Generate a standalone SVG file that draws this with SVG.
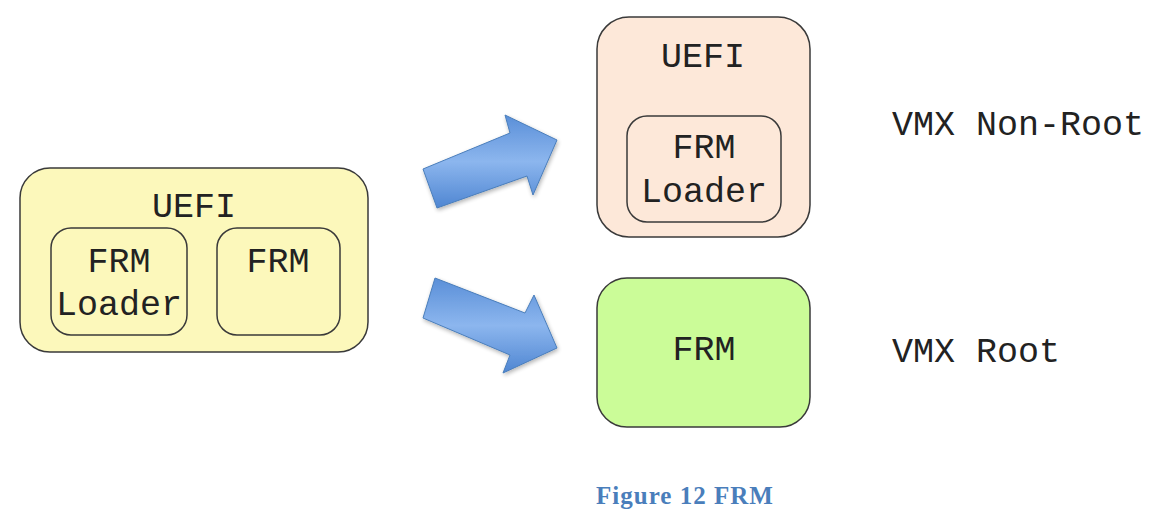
<svg xmlns="http://www.w3.org/2000/svg" width="1158" height="524" viewBox="0 0 1158 524">
<style>
.box{stroke:#3a3a3a;stroke-width:1.5}
.t{font-family:"Liberation Mono","Courier New",monospace;font-size:35px;fill:#222;text-anchor:middle}
.lbl{font-family:"Liberation Mono","Courier New",monospace;font-size:35px;fill:#222}
.cap{font-family:"Liberation Serif","Times New Roman",serif;font-size:25px;font-weight:bold;fill:#4a7ebb;text-anchor:middle;letter-spacing:1px}
.arr{fill:url(#ag);stroke:#4a7ebb;stroke-width:1}
</style>
<defs>
<linearGradient id="ag" x1="0" y1="0" x2="0" y2="1">
<stop offset="0" stop-color="#5a8fd8"/>
<stop offset="0.5" stop-color="#8cb6ee"/>
<stop offset="1" stop-color="#4f86d2"/>
</linearGradient>
<filter id="sh" x="-20%" y="-20%" width="140%" height="140%">
<feGaussianBlur in="SourceAlpha" stdDeviation="2"/>
<feOffset dx="1" dy="2"/>
<feComponentTransfer><feFuncA type="linear" slope="0.3"/></feComponentTransfer>
<feMerge><feMergeNode/><feMergeNode in="SourceGraphic"/></feMerge>
</filter>
</defs>
<rect width="1158" height="524" fill="#fff"/>
<g id="uefi-left">
<rect class="box" x="20" y="168" width="348" height="184" rx="30" fill="#fcf8bb"/>
<text class="t" x="194" y="217">UEFI</text>
</g>
<g id="frm-loader-left">
<rect class="box" x="51" y="228" width="136" height="107" rx="20" fill="#fcf8bb"/>
<text class="t" x="119" y="272">FRM</text>
<text class="t" x="119" y="315">Loader</text>
</g>
<g id="frm-left">
<rect class="box" x="217" y="228" width="123" height="107" rx="20" fill="#fcf8bb"/>
<text class="t" x="278" y="272">FRM</text>
</g>
<g id="uefi-right">
<rect class="box" x="597" y="17" width="213" height="220" rx="32" fill="#fde8d9"/>
<text class="t" x="703" y="67">UEFI</text>
</g>
<g id="frm-loader-right">
<rect class="box" x="627" y="116" width="154" height="106" rx="20" fill="#fde8d9"/>
<text class="t" x="704" y="158">FRM</text>
<text class="t" x="704" y="202">Loader</text>
</g>
<g id="frm-right">
<rect class="box" x="597" y="278" width="213" height="149" rx="30" fill="#cbfc98"/>
<text class="t" x="704" y="360">FRM</text>
</g>
<g id="connectors">
<polygon class="arr" filter="url(#sh)" points="423,169 510,133 505,115 557,140 533,195 527,176 437,208"/>
<polygon class="arr" filter="url(#sh)" points="435,278 525,313 534,295 557,348 503,373 510,355 423,318"/>
</g>
<g id="labels">
<text class="lbl" x="892" y="135">VMX Non-Root</text>
<text class="lbl" x="892" y="362">VMX Root</text>
</g>
<text class="cap" x="685" y="504">Figure 12 FRM</text>
</svg>
